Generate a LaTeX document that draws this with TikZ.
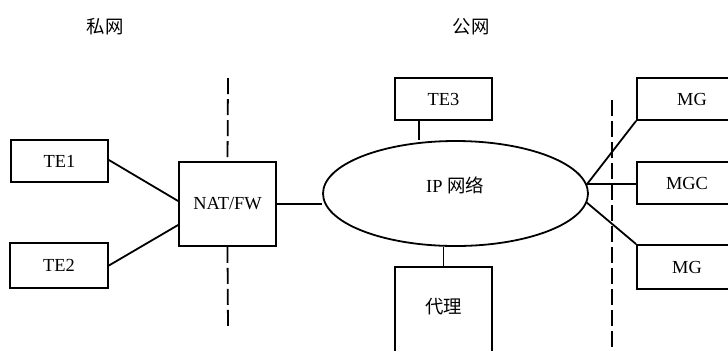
\documentclass[tikz,border=0pt]{standalone}
\usepackage{fontspec}
\setmainfont{Liberation Serif}
\newfontfamily\cjk{Noto Sans CJK SC}
\usetikzlibrary{shapes,positioning,calc}

\begin{document}
\begin{tikzpicture}[x=0.5pt, y=-0.5pt, line width=0.9pt,
    box/.style={draw, fill=white, inner sep=0pt},
    net/.style={draw, ellipse, inner sep=0pt, minimum width=132.5pt, minimum height=52.5pt},
    border/.style={dashed, dash pattern=on 8pt off 2.5pt},
    every node/.style={font=\fontsize{9.2}{11}\selectfont}]
    \useasboundingbox (0,0) rectangle (728,350);
    \clip (0,0) rectangle (728,350);

    % labels
    \node (priv) at (105,27) {\cjk 私网};
    \node (pub) at (471,27) {\cjk 公网};

    % private side
    \node[box, minimum width=48.5pt, minimum height=21pt] (te1) at (59.5,161) {TE1};
    \node[box, minimum width=49pt, minimum height=22.5pt] (te2) at (59,265.5) {TE2};
    \node[box, minimum width=48.5pt, minimum height=42pt] (nat) at (227.5,204) {NAT/FW};
    \coordinate (cuttop) at (228,78);
    \coordinate (cutbot) at (228,330);
    \draw[border] (cuttop) -- (nat.north);
    \draw[border] (nat.south) -- (cutbot);
    \draw (te1.east) ++(0,-1) -- ($(nat.west)+(0,-3)$);
    \draw (te2.east) -- ($(nat.west)+(0,21)$);

    % public side
    \node[net] (ipnet) at (455.5,193.5) {};
    \node (iptxt) at (455,185) {IP \cjk 网络};
    \node[box, minimum width=48.5pt, minimum height=21pt] (te3) at (443.5,99) {TE3};
    \node[box, minimum width=48.5pt, minimum height=66.5pt] (proxy) at (443.5,333.5) {};
    \node (proxytxt) at (443.5,307) {\cjk 代理};
    \coordinate (te3a) at ($(te3.south)+(-24.5,0)$);
    \draw (te3a) -- (te3a |- ipnet.north);
    \draw (proxy.north) -- (proxy.north |- ipnet.south);
    \draw (nat.east) -- (nat.east -| ipnet.west);

    % gateways
    \coordinate (cut2top) at (612,100);
    \coordinate (cut2bot) at (612,352);
    \draw[border] (cut2top) -- (cut2bot);
    \node[box, minimum width=55pt, minimum height=21pt] (mg1) at (692,99) {MG};
    \node[box, minimum width=50pt, minimum height=21pt] (mgc) at (687,183) {MGC};
    \node[box, minimum width=50pt, minimum height=22pt] (mg2) at (687,267) {MG};
    \draw (ipnet.4) -- (mg1.south west);
    \draw (ipnet.4) -- (ipnet.4 -| mgc.west);
    \draw (ipnet.-4) -- (mg2.north west);
\end{tikzpicture}
\end{document}
